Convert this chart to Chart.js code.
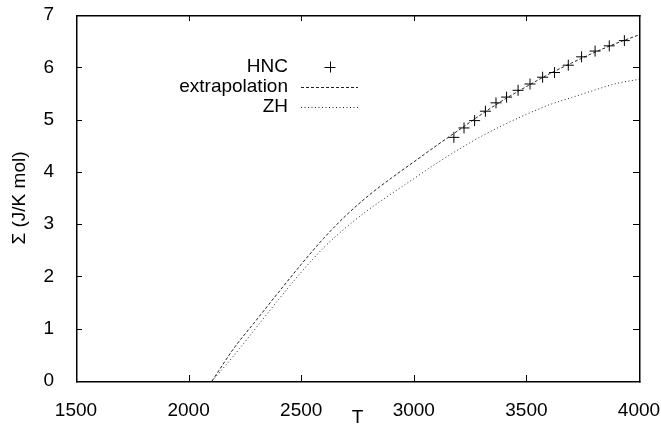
<!DOCTYPE html>
<html>
<head>
<meta charset="utf-8">
<script src="https://cdn.jsdelivr.net/npm/chart.js@4.4.1/dist/chart.umd.min.js"></script>
<style>
  html, body { margin: 0; padding: 0; background: #fff; }
  #wrap { width: 661px; height: 427px; }
</style>
</head>
<body>
<div id="wrap"><canvas id="sigmaChart"></canvas></div>
<script>
// values
const curveT = [2104, 2200, 2300, 2400, 2500, 2600, 2700, 2800, 2900, 3000,
                3100, 3200, 3300, 3400, 3500, 3600, 3700, 3800, 3900, 4000];
const extrapolation = [0, 0.62, 1.16, 1.70, 2.23, 2.73, 3.17, 3.55, 3.88, 4.19,
                       4.50, 4.80, 5.10, 5.38, 5.63, 5.87, 6.08, 6.28, 6.46, 6.62];
const zh = [0, 0.48, 1.02, 1.56, 2.08, 2.55, 2.94, 3.28, 3.58, 3.87,
            4.16, 4.43, 4.68, 4.90, 5.10, 5.28, 5.42, 5.56, 5.69, 5.77];
const hncT = [3178, 3223, 3270, 3318, 3365, 3412, 3463, 3516, 3572, 3625,
              3686, 3745, 3805, 3868, 3935];
const hncS = [4.66, 4.84, 4.98, 5.16, 5.32, 5.43, 5.56, 5.68, 5.81, 5.90,
              6.04, 6.20, 6.31, 6.41, 6.51];
const xTicks = [1500, 2000, 2500, 3000, 3500, 4000];
const yTicks = [0, 1, 2, 3, 4, 5, 6, 7];

const toPoints = (xs, ys) => xs.map((x, i) => ({ x: x, y: ys[i] }));

Chart.defaults.font.family = "'Liberation Sans', Arial, sans-serif";
Chart.defaults.font.size = 19;
Chart.defaults.color = '#000';

// box round the plot with inward ticks on all four sides
function drawBox(chart) {
    const ctx = chart.ctx;
    const area = chart.chartArea;
    const xs = chart.scales.x, ys = chart.scales.y;
    const tl = 6, lw = 1.5;
    const x0 = Math.round(area.left), x1 = Math.round(area.right);
    const y0 = Math.round(area.top), y1 = Math.round(area.bottom);
    ctx.save();
    ctx.fillStyle = '#000';
    ctx.fillRect(x0, y0, x1 - x0 + lw, lw);
    ctx.fillRect(x0, y1, x1 - x0 + lw, lw);
    ctx.fillRect(x0, y0, lw, y1 - y0 + lw);
    ctx.fillRect(x1, y0, lw, y1 - y0 + lw);
    for (const v of xTicks) {
        const px = Math.round(xs.getPixelForValue(v));
        ctx.fillRect(px, y1 - tl, 1, tl);
        ctx.fillRect(px, y0, 1, tl);
    }
    for (const v of yTicks) {
        const py = Math.round(ys.getPixelForValue(v));
        ctx.fillRect(x0, py, tl, 1);
        ctx.fillRect(x1 - tl, py, tl, 1);
    }
    ctx.restore();
}

// key in the gnuplot layout: text right aligned, sample to the right
function drawKey(chart) {
    const ctx = chart.ctx;
    const textRight = 288, sx0 = 301, sx1 = 358;
    const rows = [67, 87, 107];
    ctx.save();
    ctx.font = "19px 'Liberation Sans', Arial, sans-serif";
    ctx.fillStyle = '#000';
    ctx.textAlign = 'right';
    ctx.textBaseline = 'middle';
    chart.data.datasets.forEach((ds, i) => {
        const yy = rows[i];
        ctx.fillText(ds.label, textRight, yy);
        ctx.strokeStyle = ds.borderColor;
        ctx.lineWidth = 1;
        if (ds.showLine) {
            ctx.setLineDash(ds.borderDash || []);
            ctx.beginPath();
            ctx.moveTo(sx0, yy + 0.5); ctx.lineTo(sx1, yy + 0.5);
            ctx.stroke();
            ctx.setLineDash([]);
        } else {
            const cx = Math.round((sx0 + sx1) / 2), r = ds.pointRadius;
            ctx.beginPath();
            ctx.moveTo(cx - r, yy + 0.5); ctx.lineTo(cx + r, yy + 0.5);
            ctx.moveTo(cx + 0.5, yy - r); ctx.lineTo(cx + 0.5, yy + r);
            ctx.stroke();
        }
    });
    ctx.restore();
}

const gnuplotLook = {
    id: 'gnuplotLook',
    afterDraw(chart) {
        drawKey(chart);
        drawBox(chart);
    }
};

new Chart(document.getElementById('sigmaChart'), {
    type: 'scatter',
    data: {
        datasets: [
            {
                label: 'HNC',
                data: toPoints(hncT, hncS),
                showLine: false,
                pointStyle: 'cross',
                pointRadius: 5.5,
                borderColor: '#000',
                borderWidth: 1
            },
            {
                label: 'extrapolation',
                data: toPoints(curveT, extrapolation),
                showLine: true,
                borderColor: '#222',
                borderWidth: 1,
                borderDash: [3, 2],
                pointRadius: 0,
                cubicInterpolationMode: 'monotone'
            },
            {
                label: 'ZH',
                data: toPoints(curveT, zh),
                showLine: true,
                borderColor: '#222',
                borderWidth: 1,
                borderDash: [1, 2.5],
                pointRadius: 0,
                cubicInterpolationMode: 'monotone'
            }
        ]
    },
    options: {
        responsive: true,
        maintainAspectRatio: false,
        animation: false,
        layout: { padding: { top: 15, right: 22, left: 0, bottom: 0 } },
        plugins: { legend: { display: false }, tooltip: { enabled: false } },
        scales: {
            x: {
                type: 'linear',
                min: 1500, max: 4000,
                afterBuildTicks: s => { s.ticks = xTicks.map(v => ({ value: v })); },
                afterFit: s => { s.height = 46; s.paddingLeft = 0; s.paddingRight = 0; },
                grid: { display: false },
                border: { display: false },
                ticks: { autoSkip: false, maxRotation: 0, padding: 10, callback: v => String(v) },
                title: { display: true, text: 'T', font: { size: 19, lineHeight: 1 },
                         padding: { top: 0, bottom: 0 } }
            },
            y: {
                type: 'linear',
                min: 0, max: 7,
                afterBuildTicks: s => { s.ticks = yTicks.map(v => ({ value: v })); },
                afterFit: s => { s.width = 76; s.paddingTop = 0; s.paddingBottom = 0; },
                grid: { display: false },
                border: { display: false },
                ticks: { padding: 14, callback: v => String(v) },
                title: { display: true, text: 'Σ (J/K mol)', font: { size: 19, lineHeight: 1 },
                         padding: { top: 10, bottom: 0 } }
            }
        }
    },
    plugins: [gnuplotLook]
});
</script>
</body>
</html>
